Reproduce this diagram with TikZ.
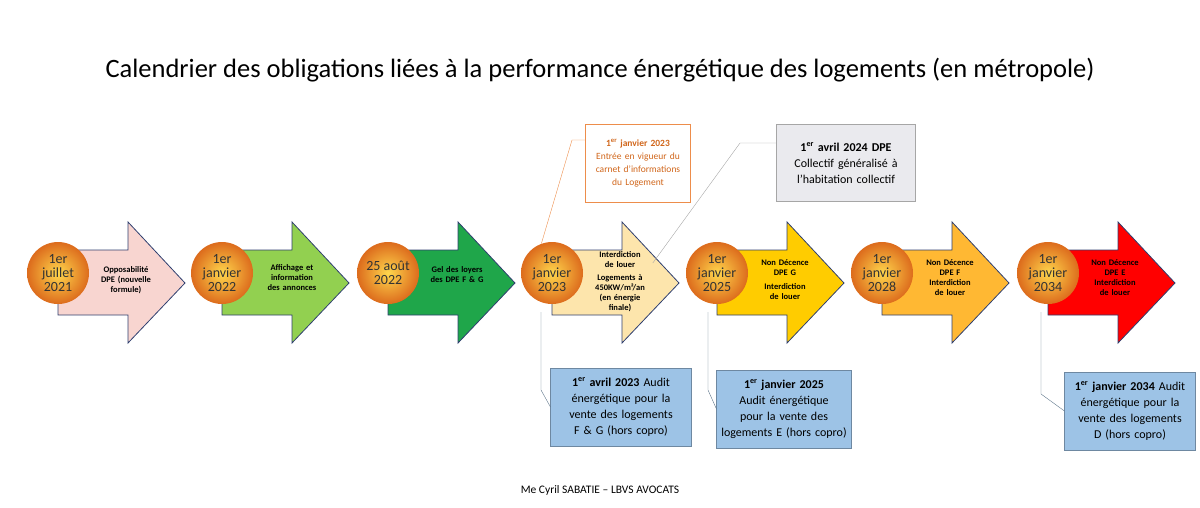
\documentclass[tikz,border=0pt]{standalone}
\usepackage{fontspec}
\setmainfont{Carlito}
\usetikzlibrary{positioning,shadings}
\definecolor{navy}{HTML}{2F3F6F}
\definecolor{orng}{HTML}{E8711E}
\definecolor{blu}{HTML}{9DC3E6}
\definecolor{lgreen}{HTML}{92D050}
\definecolor{dgreen}{HTML}{1FA64A}
\definecolor{lpink}{HTML}{F8D5D0}
\tikzset{
  date/.style={circle, minimum size=62pt, inner sep=0pt, align=center, font=\fontsize{14}{14}\selectfont,
    inner color=orange!45!yellow!70!white, outer color=orng!95!black, text=black!80},
  txt/.style={align=center, text width=60pt, font=\fontsize{8.5}{10}\selectfont\bfseries},
  info/.style={draw=blu!70!black, fill=blu, align=center, text width=134pt, minimum height=78pt, font=\fontsize{12}{16}\selectfont},
  link/.style={draw=blu!60!black, thin}
}
\newcommand{\step}[3]{% x, fill colour, name
  \fill[#2, draw=navy, line width=0.8pt] (#1,250) -- (#1+70,250) -- (#1+70,222) -- (#1+127,283)
    -- (#1+70,343) -- (#1+70,315) -- (#1,315) -- cycle;
}
\begin{document}
\hyphenpenalty=10000
\begin{tikzpicture}[x=1pt,y=-1pt]
  \useasboundingbox (0,0) rectangle (1200,507);
  \node (title) at (600,70) {\fontsize{26.5}{26.5}\selectfont Calendrier des obligations liées à la performance énergétique des logements (en métropole)};
  % Arrows
  \step{58}{lpink}{}
  \step{222}{lgreen}{}
  \step{388}{dgreen}{}
  \step{552}{yellow!40!orange!30!white}{}
  \step{717}{orange!40!yellow}{}
  \step{882}{orange!70!yellow!80!white}{}
  \step{1048}{red}{}
  % Texts
  \node[txt] (t1) at (126,280) {Opposabilité DPE (nouvelle formule)};
  \node[txt] (t2) at (292,278) {Affichage et information des annonces};
  \node[txt] (t3) at (457,275) {Gel des loyers des DPE F \& G};
  \node[txt] (t4) at (620,282) {Interdiction de louer\\[3pt] Logements à 450KW/m²/an (en énergie finale)};
  \node[txt] (t5) at (785,280) {Non Décence DPE G\\[4pt]Interdiction de louer};
  \node[txt] (t6) at (950,278) {Non Décence DPE F Interdiction de louer};
  \node[txt] (t7) at (1115,278) {Non Décence DPE E Interdiction de louer};
  % Dates
  \node[date] (d1) at (58,273) {1er\\juillet\\2021};
  \node[date] (d2) at (222,273) {1er\\janvier\\2022};
  \node[date] (d3) at (388,273) {25 août\\2022};
  \node[date] (d4) at (552,273) {1er\\janvier\\2023};
  \node[date] (d5) at (717,273) {1er\\janvier\\2025};
  \node[date] (d6) at (882,273) {1er\\janvier\\2028};
  \node[date] (d7) at (1048,273) {1er\\janvier\\2034};
  % Callouts
  \node[draw=orng!80, fill=white, text=orng!90!black, align=center, text width=98pt, minimum height=78pt,
    font=\fontsize{9.5}{13}\selectfont] (c1) at (638,163)
    {\textbf{1\textsuperscript{er} janvier 2023}\\Entrée en vigueur du carnet d’informations du Logement};
  \node[draw=gray!70, fill=blue!10!gray!15, align=center, text width=132pt, minimum height=77pt,
    font=\fontsize{12}{16}\selectfont] (c2) at (846,163)
    {\textbf{1\textsuperscript{er} avril 2024 DPE}\\Collectif généralisé à l’habitation collectif};
  \coordinate (k1) at (572,140);
  \coordinate (k2) at (740,143);
  \draw[orng!80] (d4.110) -- (k1) -- (c1.west |- k1);
  \draw[gray!70] (d5.west) ++(-33,-10) coordinate (k3) -- (k2) -- (c2.west |- k2);
  \node[info] (b1) at (621,407) {\textbf{1\textsuperscript{er} avril 2023} Audit énergétique pour la vente des logements F \& G (hors copro)};
  \node[info, text width=128pt] (b2) at (784,409) {\textbf{1\textsuperscript{er} janvier 2025} Audit énergétique pour la vente des logements E (hors copro)};
  \node[info, text width=124pt] (b3) at (1130,411) {\textbf{1\textsuperscript{er} janvier 2034} Audit énergétique pour la vente des logements D (hors copro)};
  \coordinate (v1) at (541,390);
  \coordinate (v2) at (708,390);
  \coordinate (v3) at (1041,394);
  \draw[link] (541,312) -- (v1) -- (b1.west);
  \draw[link] (708,312) -- (v2) -- (b2.west);
  \draw[link] (1041,312) -- (v3) -- (b3.west);
  \node (foot) at (600,490) {\fontsize{11.5}{11.5}\selectfont Me Cyril SABATIE – LBVS AVOCATS};
\end{tikzpicture}
\end{document}
